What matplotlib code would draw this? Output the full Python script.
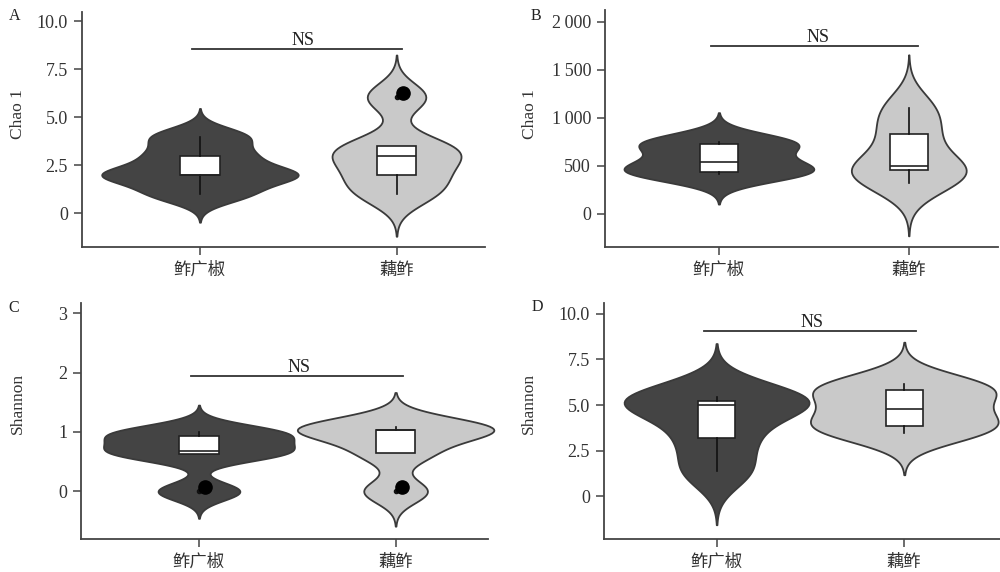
import numpy as np
import pandas as pd
import matplotlib
matplotlib.use("Agg")
import matplotlib.pyplot as plt
from matplotlib.ticker import FuncFormatter
from matplotlib.transforms import offset_copy
import seaborn as sns

# alpha diversity per sample, two products
groups = ["鲊广椒", "藕鲊"]

chao1_a_zgj = [1.0, 2.0, 2.0, 3.0, 4.0]
chao1_a_oz = [1.0, 2.0, 3.0, 3.5, 6.05]

chao1_b_zgj = [410, 437, 542, 729, 745]
chao1_b_oz = [323, 451, 503, 830, 1104]

shannon_c_zgj = [0.0, 0.63, 0.68, 0.94, 1.0]
shannon_c_oz = [0.0, 0.64, 1.03, 1.04, 1.08]

shannon_d_zgj = [1.37, 3.2, 5.02, 5.2, 5.44]
shannon_d_oz = [3.47, 3.87, 4.78, 5.8, 6.15]

FILL = ["#444444", "#c9c9c9"]
EDGE = "#3a3a3a"
TXT = "#333333"
SERIF = "Liberation Serif"
CJK = ["Noto Sans CJK SC", "DejaVu Sans"]

W, H = 1000, 572


def nrd0(kde):
  # R's bw.nrd0 expressed as a factor on the sample sd (what gaussian_kde wants)
  x = np.asarray(kde.dataset).ravel()
  sd = np.std(x, ddof=1)
  iqr = np.subtract(*np.percentile(x, [75, 25]))
  lo = min(sd, iqr / 1.34)
  return 0.9 * lo * len(x) ** -0.2 / sd


def fmt_dec(v, _):
  return "0" if abs(v) < 1e-9 else f"{v:.1f}"


def fmt_int(v, _):
  return f"{v:,.0f}".replace(",", "\u2009")


def px_rect(left, top, right, bottom):
  return [left / W, 1 - bottom / H, (right - left) / W, (bottom - top) / H]


panels = [
  dict(letter="A", ylabel="Chao 1", data=(chao1_a_zgj, chao1_a_oz),
       rect=(82, 12, 485, 247), ylim=(-1.75, 10.48), yticks=[0, 2.5, 5.0, 7.5, 10.0],
       xlim=(-0.6, 1.45), fmt=fmt_dec, ns_y=8.53, ns_x=(-0.04, 1.03), ns_mid=0.525,
       letter_xy=(15, 16), ylab_xy=(18, 114)),
  dict(letter="B", ylabel="Chao 1", data=(chao1_b_zgj, chao1_b_oz),
       rect=(605, 10, 998, 247), ylim=(-347, 2125), yticks=[0, 500, 1000, 1500, 2000],
       xlim=(-0.6, 1.47), fmt=fmt_int, ns_y=1750, ns_x=(-0.04, 1.05), ns_mid=0.52,
       letter_xy=(536, 16), ylab_xy=(530, 114)),
  dict(letter="C", ylabel="Shannon", data=(shannon_c_zgj, shannon_c_oz),
       rect=(81, 303, 488, 539), ylim=(-0.80, 3.17), yticks=[0, 1, 2, 3],
       xlim=(-0.6, 1.47), fmt=fmt_int, ns_y=1.94, ns_x=(-0.04, 1.04), ns_mid=0.51,
       letter_xy=(14, 308), ylab_xy=(18, 403)),
  dict(letter="D", ylabel="Shannon", data=(shannon_d_zgj, shannon_d_oz),
       rect=(604, 303, 1000, 539), ylim=(-2.33, 10.58), yticks=[0, 2.5, 5.0, 7.5, 10.0],
       xlim=(-0.6, 1.51), fmt=fmt_dec, ns_y=9.03, ns_x=(-0.066, 1.063), ns_mid=0.507,
       letter_xy=(537, 307), ylab_xy=(529, 403)),
]

fig = plt.figure(figsize=(W / 100, H / 100), dpi=100)

for p in panels:
  ax = fig.add_axes(px_rect(*p["rect"]))
  a, b = p["data"]
  df = pd.DataFrame({
    "group": [groups[0]] * len(a) + [groups[1]] * len(b),
    "value": list(a) + list(b),
  })

  sns.violinplot(
    data=df, x="group", y="value", hue="group", order=groups, hue_order=groups,
    palette=FILL, saturation=1, width=1.0, cut=3, bw_method=nrd0,
    density_norm="area", common_norm=True, inner=None,
    linewidth=1.3, linecolor=EDGE, legend=False, ax=ax,
  )
  for coll in ax.collections:
    coll.set_clip_on(False)

  bp = ax.boxplot(
    [a, b], positions=[0, 1], widths=0.2, patch_artist=True, showcaps=False,
    whis=1.5, manage_ticks=False, zorder=3,
    boxprops=dict(facecolor="white", edgecolor="#222222", linewidth=1.2),
    medianprops=dict(color="#222222", linewidth=1.2),
    whiskerprops=dict(color="#111111", linewidth=1.2),
    flierprops=dict(marker="o", markersize=3, markerfacecolor="#111111",
                    markeredgecolor="#111111"),
  )
  # outliers also get a large dot, nudged up and right of the point itself
  nudge = offset_copy(ax.transData, fig=fig, x=4.5, y=3, units="points")
  for fl in bp["fliers"]:
    xs, ys = fl.get_data()
    ax.plot(xs, ys, "o", ms=9.5, color="black", transform=nudge, zorder=4)

  # significance bracket
  ax.plot(p["ns_x"], [p["ns_y"]] * 2, color=TXT, lw=1.3, zorder=2)
  ax.text(p["ns_mid"], p["ns_y"], "NS", ha="center", va="bottom",
          fontsize=13, family=SERIF, color="#222222")

  ax.set_xlim(*p["xlim"])
  ax.set_ylim(*p["ylim"])
  ax.set_yticks(p["yticks"])
  ax.yaxis.set_major_formatter(FuncFormatter(p["fmt"]))
  ax.set_xticks([0, 1])
  ax.set_xticklabels(groups, fontfamily=CJK, fontsize=12.5, color=TXT)
  ax.set_xlabel("")
  ax.set_ylabel("")
  for lab in ax.get_yticklabels():
    lab.set_fontfamily(SERIF)
    lab.set_fontsize(13)
    lab.set_color(TXT)

  for side in ("top", "right"):
    ax.spines[side].set_visible(False)
  for side in ("left", "bottom"):
    ax.spines[side].set_color("#444444")
    ax.spines[side].set_linewidth(1.3)
  ax.tick_params(axis="both", direction="out", length=6, width=1.1,
                 color="#444444", pad=4)
  ax.patch.set_visible(False)

  # y label and panel letter, placed in figure pixels
  yx, yy = p["ylab_xy"]
  fig.text(yx / W, 1 - yy / H, p["ylabel"], rotation=90, ha="center", va="center",
           fontsize=12.5, family=SERIF, color=TXT)
  lx, ly = p["letter_xy"]
  fig.text(lx / W, 1 - ly / H, p["letter"], ha="center", va="center",
           fontsize=11.5, family=SERIF, color="#222222")

fig.savefig("out.png", dpi=100)
